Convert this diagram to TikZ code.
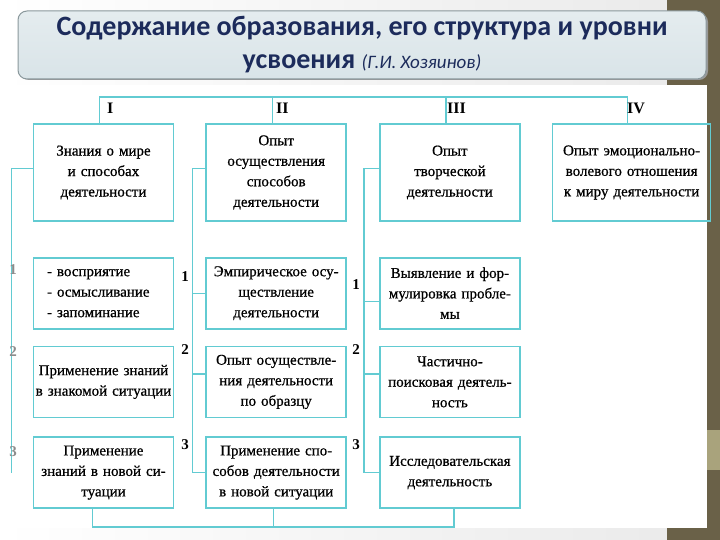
\documentclass[tikz,border=0pt]{standalone}
\usepackage{fontspec}
\setmainfont{Liberation Serif}
\newfontfamily\titlefont{Carlito}
\newfontfamily\scanfont[FakeBold=0.7]{Liberation Serif}
\usetikzlibrary{positioning}
\definecolor{cyanline}{HTML}{62CBD2}
\definecolor{navy}{HTML}{1C2B5B}
\definecolor{titlefill}{HTML}{D9E4E8}
\definecolor{titleedge}{HTML}{8A989C}
\definecolor{olive}{HTML}{6A6148}
\definecolor{lightolive}{HTML}{A9A37C}
\definecolor{pagegray}{HTML}{E9E9E9}
\tikzset{
  box/.style={draw=cyanline,line width=1.7pt,minimum width=140pt,minimum height=71pt,
    align=center,text width=140pt,inner sep=0pt,font=\scanfont\fontsize{15}{20.5}\selectfont},
  head/.style={box,minimum height=97pt},
  link/.style={draw=cyanline,line width=1.2pt},
  roman/.style={font=\fontsize{16}{16}\selectfont\bfseries,anchor=west,inner sep=0pt},
  level/.style={font=\fontsize{15}{15}\selectfont\bfseries,inner sep=0pt},
  title/.style={draw=titleedge,line width=1pt,rounded corners=9pt,top color=titlefill!70,
    bottom color=titlefill,minimum width=688pt,minimum height=68pt,align=center,
    text=navy,font=\titlefont\fontsize{28}{33}\selectfont\bfseries,inner sep=0pt}
}

\begin{document}
\begin{tikzpicture}[x=1pt,y=-1pt,node distance=32pt]
  \useasboundingbox (0,0) rectangle (720,540);
  % slide background
  \shade[left color=white,right color=pagegray] (0,0) rectangle (720,540);
  \fill[olive] (667,0) rectangle (720,540);
  \fill[white] (0,85) rectangle (707,528);
  \fill[lightolive] (707,430) rectangle (720,470);

  \fill[black!40,rounded corners=9pt] (20,13) rectangle (708,80);
  \node[title] (title) at (362,45) {Содержание образования, его структура и уровни\\
    усвоения {\mdseries\itshape\fontsize{19}{19}\selectfont (Г.И. Хозяинов)}};

  % components of the content
  \node[head] (knowledge) at (103.5,172.5) {Знания о мире\\и способах\\деятельности};
  \node[head,right=31pt of knowledge] (methods) {Опыт\\осуществления\\способов\\деятельности};
  \node[head,right=of methods] (creative) {Опыт\\творческой\\деятельности};
  \node[head,right=31pt of creative,minimum width=158pt,text width=156pt] (emotion)
    {Опыт эмоционально-\\волевого отношения\\к миру деятельности};

  % levels of mastering
  \node[box,below=35pt of knowledge,align=left,text width=113pt] (k1)
    {- восприятие\\- осмысливание\\- запоминание};
  \node[box,below=16pt of k1] (k2) {Применение знаний\\в знакомой ситуации};
  \node[box,below=18pt of k2] (k3) {Применение\\знаний в новой си-\\туации};
  \node[box,below=35pt of methods] (m1) {Эмпирическое осу-\\ществление\\деятельности};
  \node[box,below=16pt of m1] (m2) {Опыт осуществле-\\ния деятельности\\по образцу};
  \node[box,below=18pt of m2] (m3) {Применение спо-\\собов деятельности\\в новой ситуации};
  \node[box,below=35pt of creative] (c1) {Выявление и фор-\\мулировка пробле-\\мы};
  \node[box,below=16pt of c1] (c2) {Частично-\\поисковая деятель-\\ность};
  \node[box,below=18pt of c2] (c3) {Исследовательская\\деятельность};

  % upper bus with the numerals
  \coordinate (bus) at (0,97);
  \draw[link] ([xshift=-4pt]knowledge.north) -- ([xshift=-4pt]knowledge.north |- bus)
    -- ([xshift=-4pt]emotion.north |- bus) -- ([xshift=-4pt]emotion.north);
  \draw[link] ([xshift=-4pt]methods.north) -- ([xshift=-4pt]methods.north |- bus);
  \draw[link] ([xshift=-4pt]creative.north) -- ([xshift=-4pt]creative.north |- bus);
  \node[roman] (one) at (107,108) {I};
  \node[roman] (two) at (276,108) {II};
  \node[roman] (three) at (447,108) {III};
  \node[roman] (four) at (627,108) {IV};

  % side lines to the levels
  \draw[link] ([yshift=4pt]knowledge.west) -- ++(-21,0) coordinate (s1) -- (s1 |- k3.west);
  \draw[link] ([yshift=4pt]methods.west) -- ++(-13,0) coordinate (s2) |- (m3.west);
  \draw[link] (s2 |- m1.west) -- (m1.west);
  \draw[link] ([yshift=8pt]s2 |- m2.west) -- ([yshift=8pt]m2.west);
  \draw[link] ([yshift=4pt]creative.west) -- ++(-15,0) coordinate (s3) |- (c3.west);
  \draw[link] ([yshift=-8pt]s3 |- c1.west) -- ([yshift=-8pt]c1.west);
  \draw[link] ([yshift=8pt]s3 |- c2.west) -- ([yshift=8pt]c2.west);

  \node[level,text=black!45] (k1n) at (13,270) {1};
  \node[level,text=black!45] (k2n) at (13,352) {2};
  \node[level,text=black!45] (k3n) at (13,452) {3};
  \node[level] (m1n) at (185,277) {1};
  \node[level] (m2n) at (185,350) {2};
  \node[level] (m3n) at (185,445) {3};
  \node[level] (c1n) at (356,285) {1};
  \node[level] (c2n) at (356,350) {2};
  \node[level] (c3n) at (356,445) {3};

  % lower bus
  \coordinate (low) at (0,527);
  \draw[link] ([xshift=-11pt]k3.south) -- ([xshift=-11pt]k3.south |- low)
    -- ([xshift=4pt]c3.south |- low) -- ([xshift=4pt]c3.south);
  \draw[link] ([xshift=-3pt]m3.south) -- ([xshift=-3pt]m3.south |- low);
\end{tikzpicture}
\end{document}
